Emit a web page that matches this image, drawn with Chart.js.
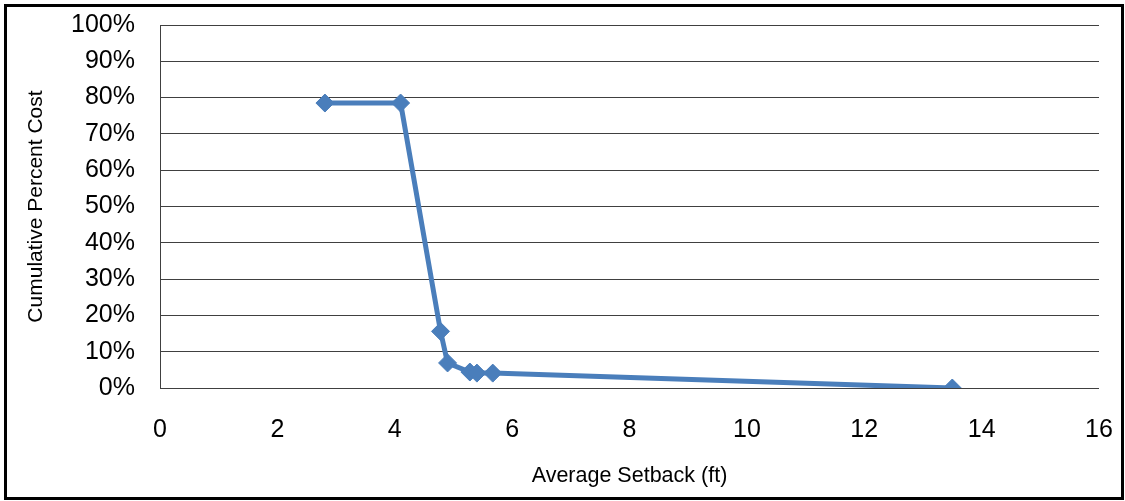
<!DOCTYPE html>
<html>
<head>
<meta charset="utf-8">
<script src="https://cdn.jsdelivr.net/npm/chart.js@4/dist/chart.umd.min.js"></script>
<style>
html,body{margin:0;padding:0;background:#fff;}
#wrap{position:relative;width:1125px;height:501px;}
</style>
</head>
<body>
<div id="wrap"><canvas id="c" width="1125" height="501"></canvas></div>
<script>
const setbackFt = [2.81, 4.10, 4.78, 4.90, 5.28, 5.40, 5.67, 13.5];
const cumulativePct = [78.5, 78.5, 15.6, 6.9, 4.4, 4.1, 4.1, 0];
const xTicks = [0, 2, 4, 6, 8, 10, 12, 14, 16];
const yTicks = [0, 10, 20, 30, 40, 50, 60, 70, 80, 90, 100];
const xTitle = 'Average Setback (ft)';
const yTitle = 'Cumulative Percent Cost';

const points = setbackFt.map((x, i) => ({x: x, y: cumulativePct[i]}));
const FONT = "'Liberation Sans', Arial, sans-serif";

const frame = {
  id: 'frame',
  beforeDraw(chart) {
    const ctx = chart.ctx;
    ctx.save();
    ctx.fillStyle = '#fff';
    ctx.fillRect(0, 0, chart.width, chart.height);
    ctx.restore();
  },
  afterDraw(chart) {
    const ctx = chart.ctx;
    ctx.save();
    ctx.strokeStyle = '#000';
    ctx.lineWidth = 3;
    ctx.strokeRect(5.5, 5.5, 1117, 493);
    ctx.restore();
  }
};

new Chart(document.getElementById('c'), {
  type: 'scatter',
  data: {
    datasets: [{
      data: points,
      showLine: true,
      borderColor: '#4A7EBB',
      backgroundColor: '#4A7EBB',
      borderWidth: 5,
      pointStyle: 'rectRot',
      pointRadius: 9,
      pointHoverRadius: 9,
      pointBorderWidth: 1,
      tension: 0
    }]
  },
  options: {
    responsive: false,
    animation: false,
    events: [],
    layout: {padding: {top: 25, right: 26, bottom: 0, left: 0}},
    plugins: {legend: {display: false}, tooltip: {enabled: false}},
    scales: {
      x: {
        type: 'linear',
        min: 0, max: 16,
        afterBuildTicks: s => { s.ticks = xTicks.map(v => ({value: v})); },
        afterFit: s => { s.height = 113; s.paddingLeft = 0; s.paddingRight = 0; },
        grid: {display: false, drawTicks: false},
        border: {display: false},
        ticks: {color: '#000', font: {family: FONT, size: 25}, padding: 27, maxRotation: 0},
        title: {display: true, text: xTitle, color: '#000', font: {family: FONT, size: 21.5}, padding: {top: 0, bottom: 12}}
      },
      y: {
        min: 0, max: 100,
        afterBuildTicks: s => { s.ticks = yTicks.map(v => ({value: v})); },
        afterFit: s => { s.width = 160; s.paddingTop = 0; s.paddingBottom = 0; },
        grid: {color: '#404040', lineWidth: 1, drawTicks: false},
        border: {display: true, color: '#404040', width: 1},
        ticks: {color: '#000', font: {family: FONT, size: 25}, padding: 25, callback: v => v + '%'},
        title: {display: true, text: yTitle, color: '#000', font: {family: FONT, size: 21}, padding: {top: 24, bottom: 0}}
      }
    }
  },
  plugins: [frame]
});
</script>
</body>
</html>
